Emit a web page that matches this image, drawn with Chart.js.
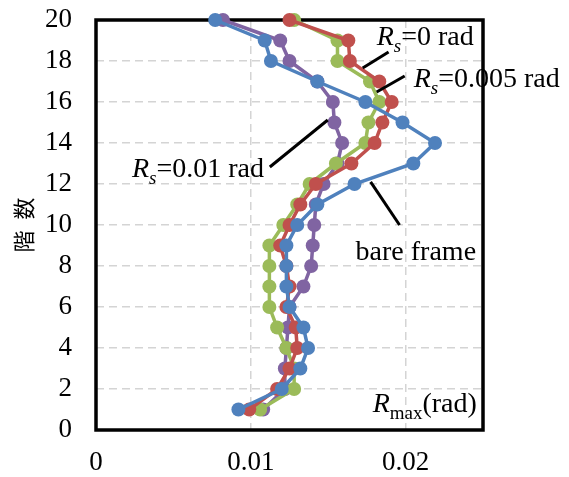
<!DOCTYPE html>
<html>
<head>
<meta charset="utf-8">
<script src="https://cdn.jsdelivr.net/npm/chart.js@4.4.1/dist/chart.umd.min.js"></script>
<style>
  body { margin: 0; background: #fff; }
  #wrap { width: 569px; height: 477px; }
</style>
</head>
<body>
<div id="wrap"><canvas id="driftChart" width="569" height="477"></canvas></div>
<script>
// Story numbers (vertical axis)
const stories = [1, 2, 3, 4, 5, 6, 7, 8, 9, 10, 11, 12, 13, 14, 15, 16, 17, 18, 19, 20];

// Max story drift angle R_max (rad) per story
const bareFrame = [0.0092, 0.0120, 0.0132, 0.0137, 0.0134, 0.0125, 0.0123, 0.0123, 0.0123, 0.0130,
                   0.0143, 0.0167, 0.0205, 0.0219, 0.0198, 0.0174, 0.0143, 0.0113, 0.0109, 0.0077];
const rs0 = [0.0099, 0.0117, 0.0125, 0.0130, 0.0129, 0.0123, 0.0125, 0.0123, 0.0119, 0.0125,
             0.0132, 0.0142, 0.0165, 0.0180, 0.0185, 0.0191, 0.0183, 0.0164, 0.0163, 0.0125];
const rs0005 = [0.0106, 0.0128, 0.0128, 0.0123, 0.0117, 0.0112, 0.0112, 0.0112, 0.0112, 0.0121,
                0.0130, 0.0138, 0.0155, 0.0174, 0.0176, 0.0183, 0.0177, 0.0156, 0.0156, 0.0128];
const rs001 = [0.0108, 0.0122, 0.0122, 0.0123, 0.0124, 0.0125, 0.0134, 0.0139, 0.0140, 0.0141,
               0.0142, 0.0147, 0.0156, 0.0159, 0.0154, 0.0153, 0.0143, 0.0125, 0.0119, 0.0082];

// Tick labels
const xTicks = [0, 0.01, 0.02];
const yTicks = [0, 2, 4, 6, 8, 10, 12, 14, 16, 18, 20];

const serif = '"Liberation Serif", "Times New Roman", serif';

function toPoints(values) {
  return values.map((v, i) => ({ x: v, y: stories[i] }));
}

function series(label, values, color) {
  return {
    label: label,
    data: toPoints(values),
    showLine: true,
    borderColor: color,
    backgroundColor: color,
    borderWidth: 3.5,
    pointRadius: 7,
    pointBorderWidth: 0,
    clip: false
  };
}

// Callout labels, placed in data coordinates (x = rad, y = story)
const callouts = [
  { parts: [['R', 'i'], ['s', 'si'], ['=0 rad', 'n']], x: 0.01813, y: 18.78,
    line: [0.0189, 18.44, 0.01723, 17.66] },
  { parts: [['R', 'i'], ['s', 'si'], ['=0.005 rad', 'n']], x: 0.02052, y: 16.73,
    line: [0.01994, 17.27, 0.01813, 16.49] },
  { parts: [['R', 'i'], ['s', 'si'], ['=0.01 rad', 'n']], x: 0.00232, y: 12.34,
    line: [0.01123, 12.83, 0.01497, 15.12] },
  { parts: [['bare frame', 'n']], x: 0.01677, y: 8.29,
    line: [0.01774, 12.10, 0.01961, 10.0] },
  { parts: [['R', 'i'], ['max', 'sn'], ['(rad)', 'n']], x: 0.01787, y: 0.88 }
];

const fonts = {
  n: { font: '28px ' + serif, dy: 0 },
  i: { font: 'italic 28px ' + serif, dy: 0 },
  si: { font: 'italic 19px ' + serif, dy: 7 },
  sn: { font: '19px ' + serif, dy: 7 }
};

const frameAndLabels = {
  id: 'frameAndLabels',
  beforeDatasetsDraw(chart) {
    const { ctx, chartArea: a } = chart;
    ctx.save();
    ctx.strokeStyle = '#000';
    ctx.lineWidth = 3.5;
    ctx.strokeRect(a.left, a.top, a.right - a.left, a.bottom - a.top);
    ctx.restore();
  },
  afterDraw(chart) {
    const { ctx } = chart;
    const xs = chart.scales.x, ys = chart.scales.y;
    ctx.save();
    ctx.fillStyle = '#000';
    ctx.strokeStyle = '#000';
    ctx.lineWidth = 3;
    ctx.textBaseline = 'alphabetic';
    callouts.forEach(c => {
      if (c.line) {
        ctx.beginPath();
        ctx.moveTo(xs.getPixelForValue(c.line[0]), ys.getPixelForValue(c.line[1]));
        ctx.lineTo(xs.getPixelForValue(c.line[2]), ys.getPixelForValue(c.line[3]));
        ctx.stroke();
      }
      let px = xs.getPixelForValue(c.x);
      const py = ys.getPixelForValue(c.y);
      c.parts.forEach(([txt, style]) => {
        const f = fonts[style];
        ctx.font = f.font;
        ctx.fillText(txt, px, py + f.dy);
        px += ctx.measureText(txt).width;
      });
    });
    ctx.restore();
  }
};

const gridColor = '#d4d4d4';

new Chart(document.getElementById('driftChart').getContext('2d'), {
  type: 'scatter',
  data: {
    datasets: [
      series('bare frame', bareFrame, '#4F81BD'),
      series('Rs=0 rad', rs0, '#C0504D'),
      series('Rs=0.005 rad', rs0005, '#9BBB59'),
      series('Rs=0.01 rad', rs001, '#8064A2')
    ]
  },
  options: {
    responsive: false,
    animation: false,
    layout: { padding: { left: 0, right: 86, top: 20, bottom: 0 } },
    plugins: {
      legend: { display: false },
      tooltip: { enabled: false }
    },
    scales: {
      x: {
        type: 'linear',
        min: 0,
        max: 0.025,
        afterBuildTicks: scale => { scale.ticks = xTicks.map(v => ({ value: v })); },
        afterFit: scale => {
          scale.height = 47;
          scale.paddingLeft = 0;
          scale.paddingRight = 0;
        },
        ticks: {
          color: '#000',
          font: { family: serif, size: 27 },
          padding: 17,
          maxRotation: 0,
          callback: v => String(v)
        },
        grid: {
          drawTicks: false,
          color: ctx => (ctx.tick && ctx.tick.value === 0 ? 'rgba(0,0,0,0)' : gridColor),
          lineWidth: 1.5
        },
        border: { display: false, dash: [8, 5] }
      },
      y: {
        type: 'linear',
        min: 0,
        max: 20,
        afterBuildTicks: scale => { scale.ticks = yTicks.map(v => ({ value: v })); },
        afterFit: scale => {
          scale.width = 96;
          scale.paddingTop = 0;
          scale.paddingBottom = 0;
        },
        ticks: {
          color: '#000',
          font: { family: serif, size: 27 },
          padding: 24
        },
        grid: {
          drawTicks: false,
          color: ctx => (ctx.tick && (ctx.tick.value === 0 || ctx.tick.value === 20) ? 'rgba(0,0,0,0)' : gridColor),
          lineWidth: 1.5
        },
        border: { display: false, dash: [8, 5] },
        title: {
          display: true,
          text: '階\u2002数',
          color: '#000',
          font: { family: '"Noto Sans CJK JP", sans-serif', size: 22 },
          padding: { top: 10, bottom: 0 }
        }
      }
    }
  },
  plugins: [frameAndLabels]
});
</script>
</body>
</html>
